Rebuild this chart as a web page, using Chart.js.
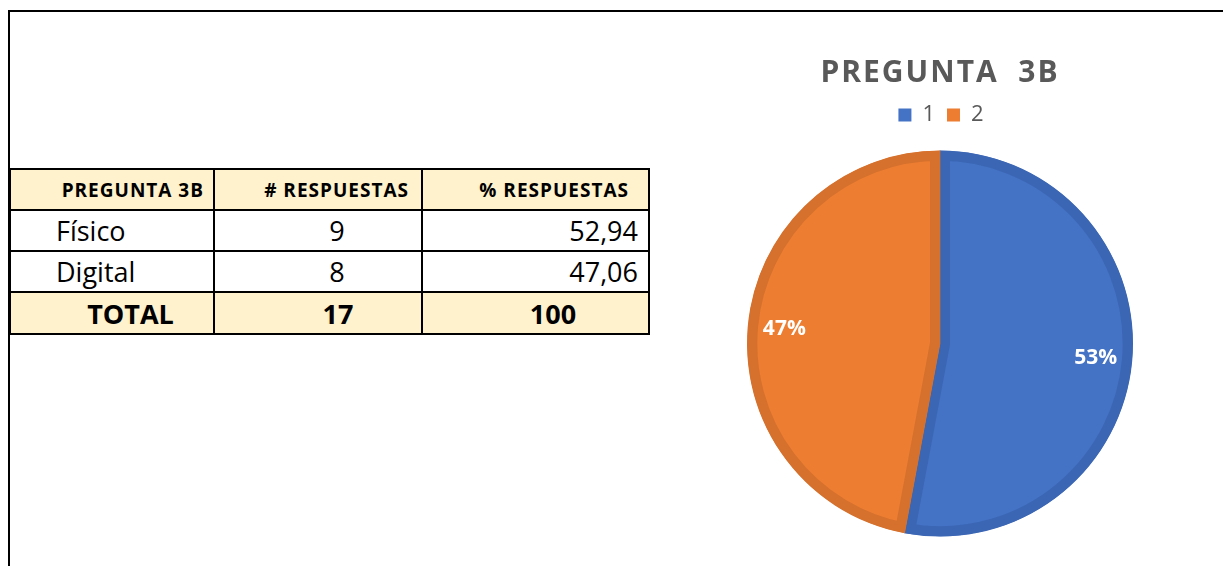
<!DOCTYPE html>
<html>
<head>
<meta charset="utf-8">
<script src="https://cdn.jsdelivr.net/npm/chart.js@4"></script>
<style>
  html, body { margin:0; padding:0; background:#fff; }
  body { width:1223px; height:566px; position:relative; overflow:hidden; font-family:'Open Sans', sans-serif; }
  #frameTop { position:absolute; left:8px; top:10px; width:1215px; height:2px; background:#000; }
  #frameLeft { position:absolute; left:8px; top:10px; width:2px; height:556px; background:#000; }
  table { position:absolute; left:9px; top:168px; border-collapse:collapse; table-layout:fixed; }
  td { border:2px solid #000; padding:0; white-space:nowrap; color:#000; }
  tr.head td { background:#FFF2CC; font-weight:bold; font-size:19px; letter-spacing:1px; height:39px; text-align:right; }
  tr.body td { font-size:27px; height:39px; }
  tr.total td { background:#FFF2CC; font-weight:bold; font-size:27px; height:40px; text-align:center; }
  #chartBox { position:absolute; left:700px; top:12px; width:480px; height:554px; }
</style>
</head>
<body>
<div id="frameTop"></div>
<div id="frameLeft"></div>
<table id="tbl"></table>
<div id="chartBox"><canvas id="c"></canvas></div>
<script>
// ---- data ----
const tableHeaders = ["PREGUNTA 3B", "# RESPUESTAS", "% RESPUESTAS"];
const tableRowLabels = ["Físico", "Digital"];
const tableCounts = [9, 8];
const tablePercents = ["52,94", "47,06"];
const tableTotals = ["TOTAL", "17", "100"];

const chartTitle = "PREGUNTA  3B";
const categories = ["1", "2"];
const values = [9, 8];
const fillColors = ["#4472C4", "#ED7D31"];
const borderColors = ["#3B66B4", "#D5712D"];

// ---- table ----
const tbl = document.getElementById('tbl');
const colW = [204, 208, 227];
let html = '<colgroup>' + colW.map(w => `<col style="width:${w}px">`).join('') + '</colgroup>';
const headPad = [9, 12, 19];
html += '<tr class="head">' + tableHeaders.map((h, i) => `<td style="padding-right:${headPad[i]}px">${h}</td>`).join('') + '</tr>';
tableRowLabels.forEach((lab, r) => {
  html += '<tr class="body">' +
    `<td style="text-align:left;padding-left:45px">${lab}</td>` +
    `<td style="text-align:center;padding-left:38px">${tableCounts[r]}</td>` +
    `<td style="text-align:right;padding-right:10px">${tablePercents[r]}</td>` +
    '</tr>';
});
const totPad = [37, 40, 35];
html += '<tr class="total">' + tableTotals.map((t, i) => `<td style="padding-left:${totPad[i]}px">${t}</td>`).join('') + '</tr>';
tbl.innerHTML = html;

// ---- chart ----
Chart.defaults.font.family = "'Open Sans', sans-serif";

const spacing = {
  id: 'spacing',
  beforeDraw(chart) { chart.ctx.letterSpacing = '2px'; },
  beforeDatasetsDraw(chart) { chart.ctx.letterSpacing = '0px'; }
};

const pctLabels = {
  id: 'pctLabels',
  afterDatasetsDraw(chart) {
    const ctx = chart.ctx;
    const meta = chart.getDatasetMeta(0);
    const total = values.reduce((a, b) => a + b, 0);
    meta.data.forEach((arc, i) => {
      const p = arc.getProps(['x', 'y', 'startAngle', 'endAngle', 'outerRadius'], true);
      const mid = (p.startAngle + p.endAngle) / 2;
      const r = p.outerRadius * 0.81;
      ctx.save();
      ctx.font = "bold 21px 'Open Sans', sans-serif";
      ctx.fillStyle = '#ffffff';
      ctx.textAlign = 'center';
      ctx.textBaseline = 'middle';
      ctx.fillText(Math.round(values[i] / total * 100) + '%', p.x + Math.cos(mid) * r, p.y + Math.sin(mid) * r);
      ctx.restore();
    });
  }
};

new Chart(document.getElementById('c'), {
  type: 'pie',
  data: {
    labels: categories,
    datasets: [{
      data: values,
      backgroundColor: fillColors,
      borderColor: borderColors,
      borderWidth: 10,
      borderAlign: 'inner'
    }]
  },
  options: {
    responsive: true,
    maintainAspectRatio: false,
    animation: false,
    radius: 193,
    layout: { padding: { top: 43, bottom: 15 } },
    plugins: {
      tooltip: { enabled: false },
      title: {
        display: true,
        text: chartTitle,
        color: '#595959',
        font: { size: 30, weight: 'bold' },
        padding: { top: 0, bottom: 3 }
      },
      legend: {
        display: true,
        position: 'top',
        labels: {
          color: '#595959',
          font: { size: 22 },
          boxWidth: 13,
          boxHeight: 13,
          padding: 10,
          generateLabels(chart) {
            const items = Chart.overrides.pie.plugins.legend.labels.generateLabels(chart);
            items.forEach((it, i) => { it.lineWidth = 0; it.fillStyle = fillColors[i]; });
            return items;
          }
        }
      }
    }
  },
  plugins: [spacing, pctLabels]
});
</script>
</body>
</html>
